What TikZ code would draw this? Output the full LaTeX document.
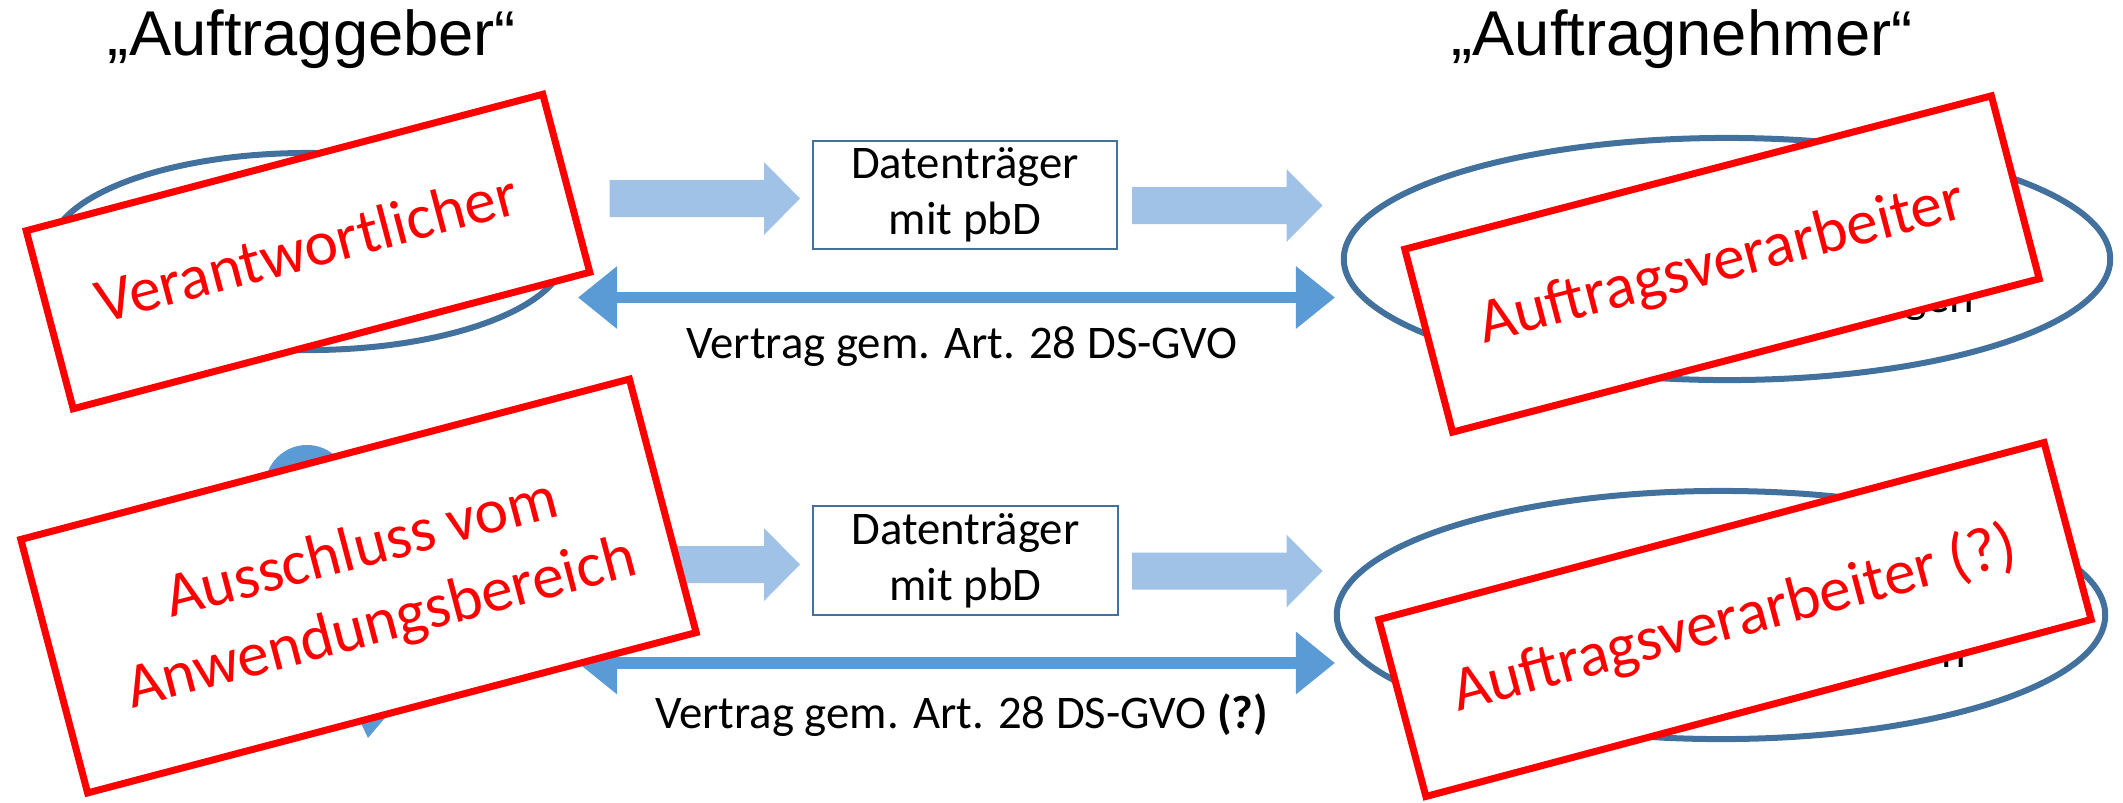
\documentclass[tikz,border=0pt]{standalone}
\usepackage{fontspec}
\setmainfont{Carlito}
\newfontfamily\hdrfont{Liberation Sans}
\usetikzlibrary{arrows.meta,shapes.geometric}
\definecolor{ellblue}{RGB}{65,113,156}
\definecolor{arrblue}{RGB}{91,155,213}
\definecolor{hatchblue}{RGB}{160,194,230}
\definecolor{boxred}{RGB}{255,0,0}
\begin{document}
\begin{tikzpicture}[x=0.01cm,y=-0.01cm,
 party/.style={ellipse, draw=ellblue, line width=0.06cm, fill=white, inner sep=0pt},
 redbox/.style={rectangle, draw=boxred, line width=0.07cm, fill=white, inner sep=0pt, outer sep=0pt},
 redtxt/.style={text=boxred, font=\fontsize{18}{22}\selectfont, anchor=base, inner sep=0pt},
 dbox/.style={rectangle, draw=ellblue, line width=0.02cm, fill=white, minimum width=3.04cm, minimum height=1.08cm, align=center, font=\fontsize{13.3}{16}\selectfont, inner sep=0pt},
 lbl/.style={font=\fontsize{13.3}{16}\selectfont, anchor=base, inner sep=0pt},
 hdr/.style={font=\hdrfont\fontsize{18}{22}\selectfont, anchor=base, inner sep=0pt},
 contract/.style={draw=arrblue, line width=0.115cm, {Triangle[width=0.6cm,length=0.39cm]}-{Triangle[width=0.6cm,length=0.39cm]}},
 blk/.pic={\fill[hatchblue] (0,-18.5) -- (154.5,-18.5) -- (154.5,-36.5) -- (190.5,0) -- (154.5,36.5) -- (154.5,18.5) -- (0,18.5) -- cycle;}
]
\useasboundingbox (0,0) rectangle (2123,802);

% headers
\node[hdr] (hl) at (312,55) {„Auftraggeber“};
\node[hdr] (hr) at (1682,55) {„Auftragnehmer“};

% parties (behind)
\node[party, minimum width=5.16cm, minimum height=1.97cm] (pl1) at (308,251.5) {};
\node[party, minimum width=7.66cm, minimum height=2.42cm] (pr1) at (1727,259) {};
\node[party, minimum width=7.68cm, minimum height=2.48cm] (pr2) at (1721,615) {};
\node[circle, fill=arrblue, minimum size=0.84cm, inner sep=0pt] (pl2) at (307,487) {};
\fill[arrblue] (350,700) -- (395,706) -- (368,738) -- cycle;

% hidden text fragments
\node[lbl, anchor=base east] (fg1) at (1975,312) {gen};
\node[lbl, anchor=base east] (fg2) at (1967,667) {n};

% data carriers and transfer arrows
\pic at (609.5,198.5) {blk};
\pic at (1132,205.5) {blk};
\pic at (609.5,564.5) {blk};
\pic at (1132,571) {blk};
\node[dbox] (d1) at (965,195) {Datenträger\\mit pbD};
\node[dbox] (d2) at (965.5,560.5) {Datenträger\\mit pbD};

% contracts
\coordinate (c1l) at (578,297.5);
\coordinate (c1r) at (1335,297.5);
\coordinate (c2l) at (578,663);
\coordinate (c2r) at (1335,663);
\draw[contract] (c1l) -- (c1r);
\draw[contract] (c2l) -- (c2r);
\node[lbl] (v1) at (962,358) {Vertrag gem. Art. 28 DS-GVO};
\node[lbl] (v2) at (961.5,728) {Vertrag gem. Art. 28 DS-GVO \textbf{(?)}};

% red overlay boxes
\node[redbox, minimum width=5.34cm, minimum height=1.84cm, rotate=14.8] (rv) at (308,251.5) {};
\node[redbox, minimum width=6.06cm, minimum height=1.89cm, rotate=14.65] (ra1) at (1722,264) {};
\node[redbox, minimum width=6.29cm, minimum height=2.62cm, rotate=14.76] (rx) at (358.5,586) {};
\node[redbox, minimum width=6.88cm, minimum height=1.83cm, rotate=14.9] (ra2) at (1735,619.5) {};

\node[redtxt, rotate=14.8] (tv) at (312,268) {Verantwortlicher};
\node[redtxt, rotate=14.65] (ta1) at (1726,280) {Auftragsverarbeiter};
\node[redtxt, rotate=14.76, anchor=center, align=center] (tx) at (372,588) {Ausschluss vom\\Anwendungsbereich};
\node[redtxt, rotate=14.9] (ta2) at (1739,637) {Auftragsverarbeiter (?)};
\end{tikzpicture}
\end{document}
